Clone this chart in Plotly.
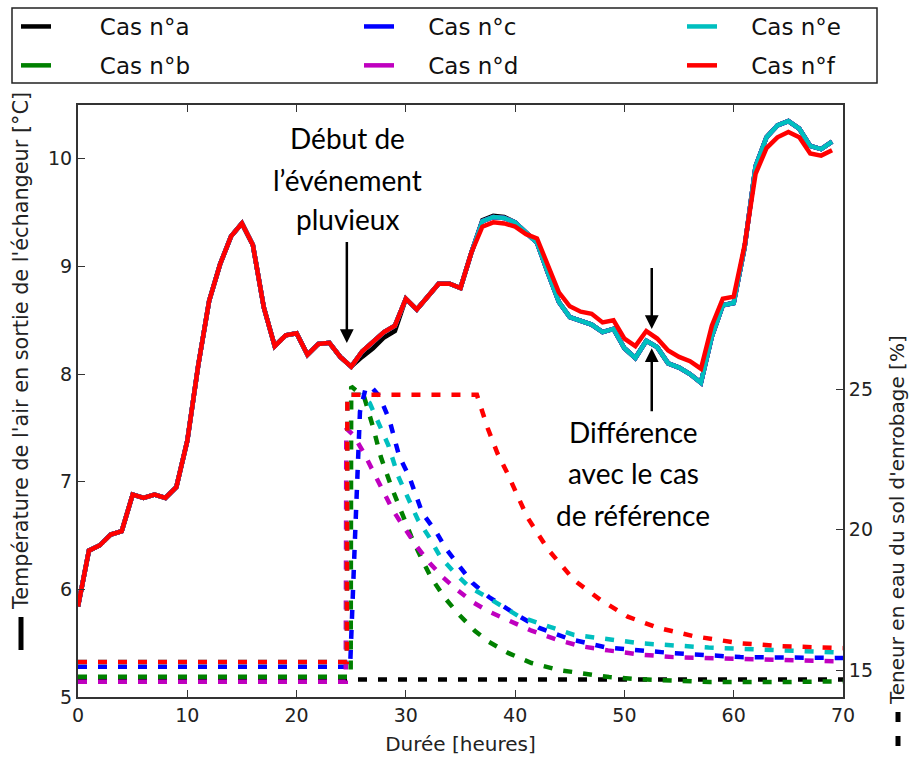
import plotly.graph_objects as go

# ---------------- data ----------------
hours = list(range(70))

temp_f = [5.84, 6.36, 6.41, 6.51, 6.54, 6.88, 6.85, 6.88, 6.85, 6.95,
          7.38, 8.08, 8.68, 9.02, 9.28, 9.40, 9.20, 8.62, 8.26, 8.36,
          8.38, 8.18, 8.28, 8.29, 8.16, 8.07, 8.21, 8.30, 8.39, 8.45,
          8.70, 8.60, 8.72, 8.84, 8.84, 8.80, 9.13, 9.37, 9.41, 9.40,
          9.37, 9.30, 9.26, 9.00, 8.76, 8.63, 8.58, 8.56, 8.48, 8.50,
          8.33, 8.26, 8.40, 8.33, 8.22, 8.16, 8.12, 8.05, 8.45, 8.70,
          8.72, 9.20, 9.86, 10.10, 10.20, 10.25, 10.20, 10.05, 10.03, 10.08]

temp_bcde = [5.84, 6.36, 6.41, 6.51, 6.54, 6.88, 6.85, 6.88, 6.85, 6.95,
             7.38, 8.08, 8.68, 9.02, 9.28, 9.40, 9.20, 8.62, 8.26, 8.36,
             8.38, 8.18, 8.28, 8.29, 8.16, 8.07, 8.21, 8.30, 8.39, 8.45,
             8.70, 8.60, 8.72, 8.84, 8.84, 8.80, 9.13, 9.42, 9.46, 9.45,
             9.41, 9.31, 9.22, 8.94, 8.67, 8.53, 8.49, 8.46, 8.39, 8.42,
             8.24, 8.15, 8.31, 8.25, 8.10, 8.06, 8.00, 7.92, 8.35, 8.64,
             8.66, 9.18, 9.93, 10.20, 10.31, 10.35, 10.28, 10.12, 10.09, 10.16]

temp_a = [5.84, 6.36, 6.41, 6.51, 6.54, 6.88, 6.85, 6.88, 6.85, 6.95,
          7.38, 8.08, 8.68, 9.02, 9.28, 9.40, 9.20, 8.62, 8.26, 8.36,
          8.38, 8.18, 8.28, 8.29, 8.16, 8.07, 8.16, 8.24, 8.34, 8.40,
          8.70, 8.60, 8.72, 8.84, 8.84, 8.80, 9.13, 9.43, 9.47, 9.46,
          9.41, 9.31, 9.22, 8.94, 8.67, 8.53, 8.49, 8.46, 8.39, 8.42,
          8.24, 8.15, 8.31, 8.25, 8.10, 8.06, 8.00, 7.92, 8.35, 8.64,
          8.66, 9.18, 9.93, 10.20, 10.31, 10.35, 10.28, 10.12, 10.09, 10.16]

# soil water content (%), each case with its own time samples
hum_t_a = [0, 70]
hum_a = [14.66, 14.66]

hum_t_b = [0, 24.95, 25.0, 26.2, 27.0, 27.7, 28.7, 29.6, 30.5, 31.4, 32.3, 33.5,
           34.8, 36.3, 37.6, 39.4, 41.5, 44.0, 46.5, 48.6, 51.0, 53.2, 57.8, 63.8, 70]
hum_b = [14.76, 14.76, 25.1, 24.7, 23.65, 22.6, 21.5, 20.6, 19.75, 19.0, 18.3, 17.6,
         17.0, 16.4, 16.0, 15.6, 15.25, 15.0, 14.85, 14.75, 14.68, 14.64, 14.57, 14.57, 14.6]

hum_t_c = [0, 24.9, 25.35, 25.6, 25.8, 26.3, 26.8, 27.6, 28.5, 29.4, 30.3, 31.5,
           32.8, 33.7, 34.9, 36.1, 37.6, 40.0, 42.2, 45.0, 48.4, 51.5, 54.5, 60.6, 65, 70]
hum_c = [15.12, 15.12, 19.75, 22.1, 24.2, 25.0, 25.1, 24.74, 23.9, 22.6, 21.9, 20.6,
         19.9, 19.3, 18.7, 18.1, 17.6, 17.0, 16.5, 16.1, 15.8, 15.7, 15.6, 15.46, 15.44, 15.43]

hum_t_d = [0, 24.5, 24.55, 25.2, 26.1, 27.0, 27.9, 28.8, 29.8, 31.0, 32.2, 33.4,
           34.7, 36.2, 37.5, 39.3, 41.5, 43.9, 46.0, 48.5, 51.5, 54.5, 60.6, 65, 70]
hum_d = [14.58, 14.58, 23.6, 23.37, 22.77, 22.1, 21.4, 20.7, 20.1, 19.4, 18.8, 18.3,
         17.85, 17.4, 17.1, 16.8, 16.4, 16.07, 15.85, 15.7, 15.55, 15.46, 15.4, 15.35, 15.3]

hum_t_e = [0, 24.6, 24.65, 25.8, 26.7, 27.5, 28.4, 29.3, 30.2, 31.1, 32.1, 33.2,
           34.5, 35.8, 37.4, 40.4, 45.4, 51.5, 57.7, 63.7, 70]
hum_e = [15.29, 15.29, 24.8, 24.8, 24.5, 23.8, 23.0, 21.9, 21.1, 20.35, 19.75, 19.0,
         18.45, 17.96, 17.6, 16.9, 16.25, 15.95, 15.8, 15.72, 15.62]

hum_t_f = [0, 24.6, 24.65, 36.5, 37.5, 38.4, 39.3, 41.1, 43.0, 45.4, 47.8, 50.3,
           53.1, 56.4, 60.7, 64.4, 70]
hum_f = [15.29, 15.29, 24.8, 24.8, 23.6, 22.7, 22.0, 20.45, 19.3, 18.2, 17.5, 16.9,
         16.5, 16.2, 15.95, 15.85, 15.78]

case_names = ["Cas n°a", "Cas n°b", "Cas n°c", "Cas n°d", "Cas n°e", "Cas n°f"]
case_colors = ["#000000", "#008000", "#0000ff", "#bf00bf", "#00bfbf", "#ff0000"]
case_legends = ["legend", "legend", "legend2", "legend2", "legend3", "legend3"]

x_ticks = [0, 10, 20, 30, 40, 50, 60, 70]
y_ticks = [5, 6, 7, 8, 9, 10]
y2_ticks = [15, 20, 25]

# ---------------- figure ----------------
temps = [temp_a, temp_bcde, temp_bcde, temp_bcde, temp_bcde, temp_f]
hum_ts = [hum_t_a, hum_t_b, hum_t_c, hum_t_d, hum_t_e, hum_t_f]
hums = [hum_a, hum_b, hum_c, hum_d, hum_e, hum_f]

NB = "\u00a0"
pads = [6, 6, 4, 4, 4, 4]

fig = go.Figure()
for name, col, lg, pad, tv in zip(case_names, case_colors, case_legends, pads, temps):
    fig.add_trace(go.Scatter(x=hours, y=tv, mode="lines", name=NB * pad + name,
                             line=dict(color=col, width=4.5), legend=lg,
                             legendgroup=name, yaxis="y"))
for name, col, ht, hv in zip(case_names, case_colors, hum_ts, hums):
    fig.add_trace(go.Scatter(x=ht, y=hv, mode="lines", name=name + " (teneur)",
                             line=dict(color=col, width=4.5, dash="9px,11px"),
                             showlegend=False, yaxis="y2"))

L, R, T, B = 78, 66, 105, 65
W, H = 909, 762
pw, ph = W - L - R, H - T - B

def px(xp):
    return (xp - L) / pw

def py(yp):
    return (H - B - yp) / ph

tick_font = dict(family="DejaVu Sans", size=19, color="#222222")
leg_font = dict(family="DejaVu Sans", size=23, color="#111111")

def leg(xpix):
    return dict(orientation="v", x=px(xpix), y=py(5), xanchor="left", yanchor="top",
                borderwidth=0, bgcolor="rgba(0,0,0,0)", font=leg_font,
                itemwidth=30, tracegroupgap=6, traceorder="grouped")

fig.update_layout(
    width=W, height=H,
    margin=dict(l=L, r=R, t=T, b=B, autoexpand=False),
    paper_bgcolor="white", plot_bgcolor="white",
    xaxis=dict(range=[0, 70], tickvals=x_ticks, ticks="inside", ticklen=7,
               tickwidth=1, tickcolor="#333", showline=True, linecolor="#333",
               linewidth=2, mirror="ticks", showgrid=False, zeroline=False,
               tickfont=tick_font, automargin=False,
               title=dict(text="Durée [heures]", font=dict(family="DejaVu Sans", size=20, color="#222"),
                          standoff=12)),
    yaxis=dict(range=[5, 10.5], tickvals=y_ticks, ticks="inside", ticklen=7,
               tickcolor="#333", showline=True, linecolor="#333", linewidth=2,
               showgrid=False, zeroline=False, tickfont=tick_font, automargin=False),
    yaxis2=dict(range=[14.04, 35.12], tickvals=y2_ticks, ticks="inside", ticklen=7,
                tickcolor="#333", showline=True, linecolor="#333", linewidth=2,
                overlaying="y", side="right", showgrid=False, zeroline=False,
                tickfont=tick_font, automargin=False),
    legend=leg(16), legend2=leg(359), legend3=leg(682),
    showlegend=True,
)

ann_font = dict(family="Lato", size=28, color="black")
annotations = []
for txt, yy in [("Début de", 138), ("l’événement", 180), ("pluvieux", 219)]:
    annotations.append(dict(text=txt, xref="paper", yref="paper", x=px(347), y=py(yy),
                            showarrow=False, font=ann_font, xanchor="center", yanchor="middle"))
for txt, yy in [("Différence", 432), ("avec le cas", 473), ("de référence", 515)]:
    annotations.append(dict(text=txt, xref="paper", yref="paper", x=px(633), y=py(yy),
                            showarrow=False, font=ann_font, xanchor="center", yanchor="middle"))
# arrows
for (x0, y0, x1, y1) in [(24.6, 9.24, 24.6, 8.29), (52.5, 9.00, 52.5, 8.42), (52.5, 7.64, 52.5, 8.24)]:
    annotations.append(dict(x=x1, y=y1, ax=x0, ay=y0, xref="x", yref="y", axref="x", ayref="y",
                            text="", showarrow=True, arrowhead=2, arrowsize=1.1,
                            arrowwidth=2.5, arrowcolor="black"))
# axis titles
annotations.append(dict(text="Température de l'air en sortie de l'échangeur [°C]",
                        xref="paper", yref="paper", x=px(21), y=py(351), textangle=-90,
                        showarrow=False, font=dict(family="DejaVu Sans", size=20.8, color="#222"),
                        xanchor="center", yanchor="middle"))
annotations.append(dict(text="Teneur en eau du sol d'enrobage [%]",
                        xref="paper", yref="paper", x=px(897), y=py(520), textangle=-90,
                        showarrow=False, font=dict(family="DejaVu Sans", size=20, color="#222"),
                        xanchor="center", yanchor="middle"))
fig.update_layout(annotations=annotations)

shapes = [
    # legend frame
    dict(type="rect", xref="paper", yref="paper", x0=px(12), x1=px(877), y0=py(83), y1=py(8),
         line=dict(color="#222", width=1.5), fillcolor="rgba(0,0,0,0)", layer="below"),
    # style markers of the axis titles
    dict(type="line", xref="paper", yref="paper", x0=px(21), x1=px(21), y0=py(617), y1=py(650),
         line=dict(color="black", width=5)),
    dict(type="rect", xref="paper", yref="paper", x0=px(895.5), x1=px(900.5), y0=py(712), y1=py(722),
         fillcolor="black", line=dict(width=0)),
    dict(type="rect", xref="paper", yref="paper", x0=px(895.5), x1=px(900.5), y0=py(736), y1=py(746),
         fillcolor="black", line=dict(width=0)),
]
fig.update_layout(shapes=shapes)

fig.write_html("out.html", config={"displayModeBar": False},
               post_script="document.body.style.margin='0px';")
